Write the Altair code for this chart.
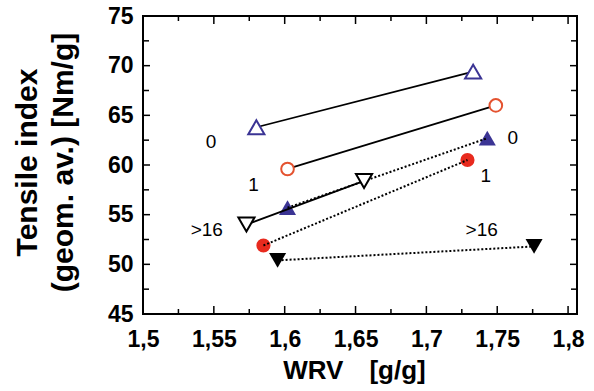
import altair as alt
import pandas as pd

# ---- data ----
series = ["0 open", "1 open", ">16 open", "0 filled", "1 filled", ">16 filled"]
wrv_start = [1.580, 1.602, 1.573, 1.602, 1.585, 1.595]
wrv_end = [1.733, 1.749, 1.656, 1.743, 1.729, 1.776]
tensile_start = [63.8, 59.6, 54.0, 55.7, 51.9, 50.4]
tensile_end = [69.4, 66.0, 58.4, 62.7, 60.5, 51.8]

label_text = ["0", "1", ">16", "0", "1", ">16"]
label_wrv = [1.548, 1.578, 1.545, 1.761, 1.742, 1.739]
label_tensile = [62.3, 58.0, 53.5, 62.7, 58.9, 53.5]

x_major = [1.5, 1.55, 1.6, 1.65, 1.7, 1.75, 1.8]
x_minor = [1.525, 1.575, 1.625, 1.675, 1.725, 1.775]
y_major = [45, 50, 55, 60, 65, 70, 75]
y_minor = [47.5, 52.5, 57.5, 62.5, 67.5, 72.5]

# ---- styles ----
shape_of = {"0 open": "triangle-up", "1 open": "circle", ">16 open": "triangle-down",
            "0 filled": "triangle-up", "1 filled": "circle", ">16 filled": "triangle-down"}
color_of = {"0 open": "#3b3494", "1 open": "#e4522f", ">16 open": "#000000",
            "0 filled": "#3b3494", "1 filled": "#e82a1e", ">16 filled": "#000000"}
size_of = {"0 open": 260, "1 open": 160, ">16 open": 260,
           "0 filled": 290, "1 filled": 200, ">16 filled": 290}
open_series = series[:3]
filled_series = series[3:]

W, H = 434, 298
FONT = "Liberation Sans"

rows = []
for i, s in enumerate(series):
    rows.append({"series": s, "x": wrv_start[i], "y": tensile_start[i], "sz": size_of[s]})
    rows.append({"series": s, "x": wrv_end[i], "y": tensile_end[i], "sz": size_of[s]})
pts = pd.DataFrame(rows)
labels = pd.DataFrame({"x": label_wrv, "y": label_tensile, "text": label_text})

xscale = alt.Scale(domain=[1.5, 1.8063], nice=False, zero=False)
yscale = alt.Scale(domain=[45, 75], nice=False, zero=False)

xaxis = alt.Axis(values=x_major, format=".2~f", labelExpr="replace(datum.label, '.', ',')",
                 labelFont=FONT, labelFontWeight="bold", labelFontSize=23, labelColor="black",
                 labelPadding=14, labelFlush=False, labelOverlap=False,
                 ticks=False, domain=False, grid=False,
                 title="WRV\u2003[g/g]", titleFont=FONT, titleFontSize=26, titleFontWeight="bold",
                 titleColor="black", titleX=W / 2 - 6, titleY=64, titleBaseline="alphabetic",
                 titleAlign="center")
yaxis = alt.Axis(values=y_major, format="d",
                 labelFont=FONT, labelFontWeight="bold", labelFontSize=23, labelColor="black",
                 labelPadding=10, labelFlush=False, labelOverlap=False,
                 ticks=False, domain=False, grid=False,
                 title=["Tensile index", "(geom. av.) [Nm/g]"], titleFont=FONT, titleFontSize=30,
                 titleFontWeight="bold", titleColor="black", titleX=-116, titleY=146,
                 titleBaseline="middle", titleAlign="center", titleLineHeight=36, titleAngle=270)

X = alt.X("x:Q", scale=xscale, axis=xaxis)
Y = alt.Y("y:Q", scale=yscale, axis=yaxis)

shape_enc = alt.Shape("series:N", scale=alt.Scale(domain=series, range=[shape_of[s] for s in series]), legend=None)
color_enc = alt.Color("series:N", scale=alt.Scale(domain=series, range=[color_of[s] for s in series]), legend=None)
size_enc = alt.Size("sz:Q", scale=None, legend=None)

base = alt.Chart(pts)

filled_pts = base.transform_filter(
    alt.FieldOneOfPredicate(field="series", oneOf=filled_series)
).mark_point(filled=True, opacity=1).encode(x=X, y=Y, shape=shape_enc, color=color_enc, size=size_enc)

solid_lines = base.transform_filter(
    alt.FieldOneOfPredicate(field="series", oneOf=open_series)
).mark_line(color="black", strokeWidth=1.8).encode(x=X, y=Y, detail="series:N")

dotted_lines = base.transform_filter(
    alt.FieldOneOfPredicate(field="series", oneOf=filled_series)
).mark_line(color="black", strokeWidth=2, strokeDash=[2, 2]).encode(x=X, y=Y, detail="series:N")

open_pts = base.transform_filter(
    alt.FieldOneOfPredicate(field="series", oneOf=open_series)
).mark_point(filled=False, fill="white", opacity=1, strokeWidth=2).encode(
    x=X, y=Y, shape=shape_enc, color=color_enc, size=size_enc)

text = alt.Chart(labels).mark_text(font=FONT, fontSize=19, color="black", align="center",
                                   baseline="middle").encode(x=X, y=Y, text="text:N")

# inward ticks on all four sides
xmaj = pd.DataFrame({"x": x_major})
xmin = pd.DataFrame({"x": x_minor})
ymaj = pd.DataFrame({"y": y_major})
ymin = pd.DataFrame({"y": y_minor})
tick_layers = []
for df, ln in [(xmaj, 8), (xmin, 5)]:
    tick_layers.append(alt.Chart(df).mark_rule(color="black", strokeWidth=1.5).encode(
        x=X, y=alt.value(H), y2=alt.value(H - ln)))
    tick_layers.append(alt.Chart(df).mark_rule(color="black", strokeWidth=1.5).encode(
        x=X, y=alt.value(0), y2=alt.value(ln)))
for df, ln in [(ymaj, 7), (ymin, 6)]:
    tick_layers.append(alt.Chart(df).mark_rule(color="black", strokeWidth=1.5).encode(
        y=Y, x=alt.value(0), x2=alt.value(ln)))
    tick_layers.append(alt.Chart(df).mark_rule(color="black", strokeWidth=1.5).encode(
        y=Y, x=alt.value(W), x2=alt.value(W - ln)))

chart = alt.layer(filled_pts, solid_lines, dotted_lines, open_pts, text, *tick_layers).properties(
    width=W, height=H,
    autosize=alt.AutoSizeParams(type="none"),
    padding={"left": 143, "top": 16, "right": 17, "bottom": 77},
    background="white",
).configure_view(stroke="black", strokeWidth=2)

chart.save("out.html", embed_options={"renderer": "svg", "actions": False})
